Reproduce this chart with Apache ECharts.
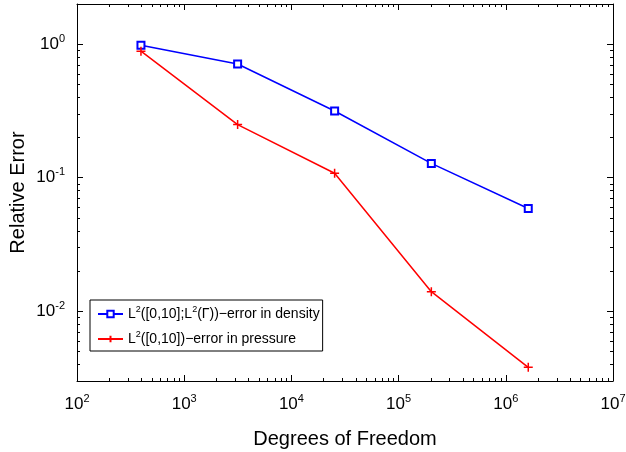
<!DOCTYPE html>
<html>
<head>
<meta charset="utf-8">
<script src="https://cdn.jsdelivr.net/npm/echarts@6/dist/echarts.min.js"></script>
<style>html,body{margin:0;padding:0;background:#fff}#c{width:626px;height:452px}</style>
</head>
<body>
<div id="c"></div>
<script>
// Data
const dof = [395, 3150, 25300, 202000, 1620000];
const densityErr = [0.98, 0.71, 0.316, 0.128, 0.0588];
const pressureErr = [0.887, 0.25, 0.108, 0.0140, 0.0038];
const seriesNames = ['density', 'pressure'];
const legendLabels = {
  density: '{t|L}{s|2}{t|([0,10];L}{s|2}{t|(Γ))−error in density}',
  pressure: '{t|L}{s|2}{t|([0,10])−error in pressure}'
};
const xMin = 1e2, xMax = 1e7, yMin = 0.003, yMax = 2;
const xMajorTicks = [1e2, 1e3, 1e4, 1e5, 1e6, 1e7];
const yMajorTicks = [0.01, 0.1, 1];

function minorTicks(lo, hi) {
  const out = [];
  for (let e = Math.floor(Math.log10(lo)); e <= Math.ceil(Math.log10(hi)); e++) {
    for (let k = 2; k <= 9; k++) {
      const v = k * Math.pow(10, e);
      if (v > lo * 0.999 && v < hi * 1.001) out.push(v);
    }
  }
  return out;
}
const xMinor = minorTicks(xMin, xMax);
const yMinor = minorTicks(yMin, yMax);

const FONT = 'Liberation Sans';
const labelRich = {
  b: { fontSize: 17, fontFamily: FONT, color: '#000', lineHeight: 22 },
  s: { fontSize: 11, fontFamily: FONT, color: '#000', verticalAlign: 'top', lineHeight: 11 }
};
function expFmt(v) {
  const e = Math.round(Math.log10(v));
  return '{b|10}{s|' + e + '}';
}
const lineStyleAxis = { color: '#000', width: 1 };

function makeAxis(kind, pos, major, showLine, showLabel, ticks, len) {
  const isX = kind === 'x';
  const ax = {
    type: 'log', logBase: 10, position: pos,
    min: isX ? xMin : yMin, max: isX ? xMax : yMax,
    axisLine: { show: showLine, onZero: false, lineStyle: lineStyleAxis },
    axisTick: { show: true, inside: true, length: len, customValues: ticks, lineStyle: { color: '#000', width: 1 } },
    axisLabel: { show: showLabel },
    splitLine: { show: false },
    minorTick: { show: false }, minorSplitLine: { show: false }
  };
  if (showLabel) {
    ax.axisLabel = {
      show: true, customValues: major, formatter: expFmt, rich: labelRich,
      margin: 12, fontFamily: FONT, color: '#000', hideOverlap: false
    };
  }
  return ax;
}

const xAxes = [
  Object.assign(makeAxis('x', 'bottom', xMajorTicks, true, true, xMajorTicks, 6), {
    name: 'Degrees of Freedom', nameLocation: 'middle', nameGap: 48, nameMoveOverlap: false,
    nameTextStyle: { fontSize: 20, fontFamily: FONT, color: '#000' }
  }),
  makeAxis('x', 'bottom', null, false, false, xMinor, 3),
  makeAxis('x', 'top', null, true, false, xMajorTicks, 6),
  makeAxis('x', 'top', null, false, false, xMinor, 3)
];
const yAxes = [
  Object.assign(makeAxis('y', 'left', yMajorTicks, true, true, yMajorTicks, 6), {
    name: 'Relative Error', nameLocation: 'middle', nameGap: 49, nameMoveOverlap: false,
    nameTextStyle: { fontSize: 20, fontFamily: FONT, color: '#000' }
  }),
  makeAxis('y', 'left', null, false, false, yMinor, 3),
  makeAxis('y', 'right', null, true, false, yMajorTicks, 6),
  makeAxis('y', 'right', null, false, false, yMinor, 3)
];

const chart = echarts.init(document.getElementById('c'), null, { renderer: 'canvas' });
chart.setOption({
  animation: false,
  backgroundColor: '#fff',
  grid: { left: 77, right: 13, top: 4, bottom: 71, containLabel: false, outerBoundsMode: 'none' },
  xAxis: xAxes,
  yAxis: yAxes,
  legend: {
    orient: 'vertical', left: 90, top: 300,
    data: seriesNames,
    backgroundColor: '#fff', borderColor: '#000', borderWidth: 1, borderRadius: 0,
    padding: [5, 3, 5, 7], itemGap: 9, itemWidth: 25, itemHeight: 8,
    formatter: function (n) { return legendLabels[n]; },
    textStyle: {
      fontFamily: FONT, color: '#000', fontSize: 14,
      rich: {
        t: { fontSize: 14, fontFamily: FONT, color: '#000', lineHeight: 18 },
        s: { fontSize: 9, fontFamily: FONT, color: '#000', verticalAlign: 'top', lineHeight: 9 }
      }
    }
  },
  series: [
    {
      name: seriesNames[0], type: 'line',
      data: dof.map((x, i) => [x, densityErr[i]]),
      xAxisIndex: 0, yAxisIndex: 0,
      symbol: 'emptyRect', symbolSize: 7,
      lineStyle: { color: '#0000ff', width: 1.5 },
      itemStyle: { color: '#0000ff', borderColor: '#0000ff', borderWidth: 1.5 }
    },
    {
      name: seriesNames[1], type: 'line',
      data: dof.map((x, i) => [x, pressureErr[i]]),
      xAxisIndex: 0, yAxisIndex: 0,
      symbol: 'path://M0,5L10,5M5,0L5,10', symbolSize: 9,
      lineStyle: { color: '#ff0000', width: 1.5 },
      itemStyle: { color: '#ff0000', borderColor: '#ff0000', borderWidth: 1.5 }
    }
  ]
});
</script>
</body>
</html>
